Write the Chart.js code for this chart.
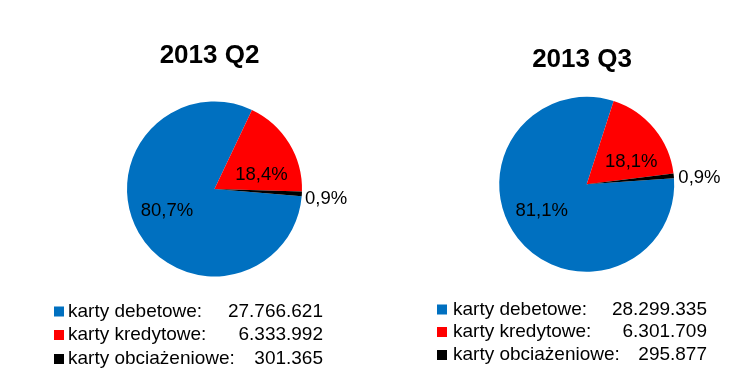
<!DOCTYPE html>
<html>
<head>
<meta charset="utf-8">
<script src="https://cdn.jsdelivr.net/npm/chart.js@4/dist/chart.umd.min.js"></script>
<style>
  html, body { margin: 0; padding: 0; background: #fff; }
  #wrap { position: relative; width: 744px; height: 376px; overflow: hidden; }
  canvas { position: absolute; left: 0; top: 0; }
</style>
</head>
<body>
<div id="wrap">
  <canvas id="c1" width="744" height="376"></canvas>
  <canvas id="c2" width="744" height="376"></canvas>
</div>
<script>
// ---- data ----
const categories = ['karty debetowe:', 'karty kredytowe:', 'karty obciażeniowe:'];
const titles = ['2013 Q2', '2013 Q3'];
const q2Values = [27766621, 6333992, 301365];
const q3Values = [28299335, 6301709, 295877];
const q2Labels = ['80,7%', '18,4%', '0,9%'];
const q3Labels = ['81,1%', '18,1%', '0,9%'];

const colors = ['#0070C0', '#FF0000', '#000000'];
const FONT = '"Liberation Sans", Arial, sans-serif';

function fmt(n) {
  return String(n).replace(/\B(?=(\d{3})+(?!\d))/g, '.');
}

const pieText = {
  id: 'pieText',
  afterDatasetsDraw(chart, args, o) {
    const ctx = chart.ctx;
    const meta = chart.getDatasetMeta(0);
    const ds = chart.data.datasets[0];
    ctx.save();
    ctx.fillStyle = '#000';
    ctx.textBaseline = 'middle';
    // title
    ctx.font = 'bold 26px ' + FONT;
    ctx.textAlign = 'center';
    ctx.fillText(o.title, o.titleX, o.titleY);
    // data labels
    ctx.font = '18.5px ' + FONT;
    meta.data.forEach((arc, i) => {
      const p = arc.getProps(['x', 'y', 'startAngle', 'endAngle', 'outerRadius'], true);
      const mid = (p.startAngle + p.endAngle) / 2 + o.angleShift[i] * Math.PI / 180;
      const r = p.outerRadius * o.radiusFactor[i];
      ctx.textAlign = o.radiusFactor[i] > 1 ? 'left' : 'center';
      ctx.fillText(o.pct[i], p.x + Math.cos(mid) * r, p.y + Math.sin(mid) * r);
    });
    // legend
    ctx.font = '19px ' + FONT;
    chart.data.labels.forEach((lab, i) => {
      const y = o.legendY[i];
      ctx.fillStyle = ds.backgroundColor[i];
      ctx.fillRect(o.markerX, y - 5, 10, 10);
      ctx.fillStyle = '#000';
      ctx.textAlign = 'left';
      ctx.fillText(lab, o.textX, y);
      ctx.textAlign = 'right';
      ctx.fillText(fmt(ds.data[i]), o.valueX, y);
    });
    ctx.restore();
  }
};

function makePie(id, values, labels, rotation, padding, textOpts) {
  return new Chart(document.getElementById(id), {
    type: 'pie',
    data: {
      labels: categories,
      datasets: [{
        data: values,
        backgroundColor: colors,
        borderWidth: 0,
        hoverOffset: 0
      }]
    },
    options: {
      responsive: false,
      animation: false,
      rotation: rotation,
      radius: 87.5,
      layout: { padding: padding },
      events: [],
      plugins: {
        legend: { display: false },
        tooltip: { enabled: false },
        title: { display: false },
        pieText: Object.assign({ pct: labels }, textOpts)
      }
    },
    plugins: [pieText]
  });
}

makePie('c1', q2Values, q2Labels, 94.8,
  { left: 0, right: 315, top: 2, bottom: 0 },
  { title: titles[0], titleX: 209.5, titleY: 56,
    angleShift: [5, 15, 3], radiusFactor: [0.6, 0.56, 1.04],
    markerX: 54, textX: 68, valueX: 323, legendY: [311.5, 335, 359] });

makePie('c2', q3Values, q3Labels, 86,
  { left: 429.4, right: 0, top: 0, bottom: 7.4 },
  { title: titles[1], titleX: 582, titleY: 60,
    angleShift: [7, 13, 1.5], radiusFactor: [0.6, 0.57, 1.05],
    markerX: 437, textX: 453, valueX: 707, legendY: [309.5, 332, 355] });
</script>
</body>
</html>
